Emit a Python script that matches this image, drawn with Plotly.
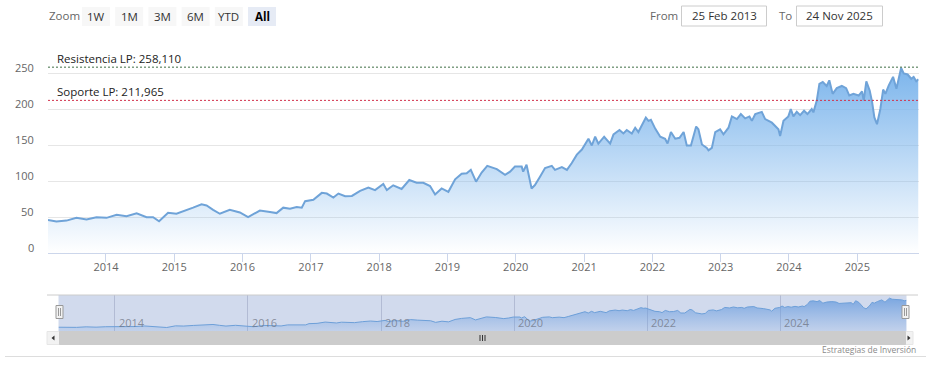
import plotly.graph_objects as go

W, H = 936, 374


def px(x):
    return x / W


def py(y):
    return 1 - y / H


# ---------------- data ----------------
dates = [
    "2013-02-25", "2013-04-11", "2013-06-04", "2013-07-27", "2013-09-19", "2013-11-11",
    "2014-01-04", "2014-02-27", "2014-04-21", "2014-06-14", "2014-08-06", "2014-09-10",
    "2014-10-12", "2014-11-29", "2015-01-13", "2015-03-07", "2015-04-12", "2015-05-27",
    "2015-06-23", "2015-07-28", "2015-09-02", "2015-10-25", "2015-12-18", "2016-01-31",
    "2016-04-03", "2016-05-27", "2016-07-01", "2016-08-06", "2016-09-11", "2016-10-17",
    "2016-11-13", "2016-12-01", "2017-01-14", "2017-02-28", "2017-03-27", "2017-05-01",
    "2017-05-28", "2017-07-03", "2017-08-08", "2017-09-21", "2017-11-04", "2017-12-10",
    "2018-01-23", "2018-02-11", "2018-03-17", "2018-05-01", "2018-06-11", "2018-07-20",
    "2018-08-25", "2018-09-30", "2018-10-27", "2018-12-01", "2019-01-06", "2019-02-11",
    "2019-03-18", "2019-04-14", "2019-05-06", "2019-06-03", "2019-07-03", "2019-08-02",
    "2019-09-22", "2019-11-05", "2019-12-02", "2019-12-28", "2020-02-02", "2020-02-10",
    "2020-02-28", "2020-03-26", "2020-04-13", "2020-05-10", "2020-06-06", "2020-07-12",
    "2020-07-29", "2020-09-04", "2020-10-01", "2020-10-27", "2020-11-23", "2020-12-20",
    "2021-01-24", "2021-02-11", "2021-03-01", "2021-03-18", "2021-04-18", "2021-05-20",
    "2021-06-07", "2021-07-09", "2021-07-30", "2021-08-17", "2021-09-13", "2021-10-01",
    "2021-10-18", "2021-11-27", "2021-12-11", "2021-12-24", "2022-01-16", "2022-02-12",
    "2022-03-10", "2022-03-23", "2022-04-10", "2022-05-03", "2022-05-26", "2022-06-17",
    "2022-07-04", "2022-07-26", "2022-08-23", "2022-09-04", "2022-09-23", "2022-10-19",
    "2022-10-28", "2022-11-15", "2022-12-03", "2022-12-29", "2023-01-16", "2023-02-12",
    "2023-03-02", "2023-03-29", "2023-04-19", "2023-05-12", "2023-06-04", "2023-06-17",
    "2023-07-05", "2023-08-09", "2023-08-27", "2023-10-02", "2023-11-06", "2023-11-15",
    "2023-12-03", "2023-12-29", "2024-01-11", "2024-01-25", "2024-02-12", "2024-03-01",
    "2024-03-22", "2024-04-09", "2024-05-02", "2024-05-11", "2024-05-29", "2024-06-12",
    "2024-06-30", "2024-07-21", "2024-08-04", "2024-08-22", "2024-09-13", "2024-10-10",
    "2024-11-02", "2024-11-19", "2024-12-11", "2025-01-08", "2025-01-26", "2025-02-04",
    "2025-02-18", "2025-03-08", "2025-03-21", "2025-04-02", "2025-04-16", "2025-05-04",
    "2025-05-19", "2025-05-31", "2025-06-18", "2025-07-11", "2025-07-29", "2025-08-23",
    "2025-09-06", "2025-09-27", "2025-10-16", "2025-10-29", "2025-11-12", "2025-11-24",
]
values = [
    46.0, 43.7, 45.0, 48.8, 46.5, 49.7,
    48.8, 53.0, 51.0, 55.0, 49.7, 49.7,
    44.0, 56.0, 54.5, 59.0, 63.0, 67.6,
    66.0, 60.0, 54.5, 60.0, 56.3, 49.7,
    59.0, 56.8, 55.4, 63.0, 61.5, 63.8,
    63.0, 72.0, 74.0, 83.5, 82.6, 77.0,
    82.6, 78.9, 79.3, 86.4, 91.0, 87.3,
    95.8, 87.3, 94.0, 89.0, 101.4, 97.6,
    97.6, 93.0, 81.3, 89.7, 85.0, 102.4,
    110.0, 110.8, 115.5, 99.0, 111.7, 121.0,
    116.5, 108.5, 113.0, 120.0, 120.0, 113.0,
    122.5, 89.7, 94.4, 106.0, 118.0, 121.0,
    115.5, 119.3, 115.5, 125.0, 136.6, 143.7,
    158.7, 149.3, 161.5, 152.0, 161.5, 152.0,
    164.8, 170.8, 166.0, 170.8, 166.0, 174.0,
    168.0, 188.0, 183.5, 185.0, 172.8, 161.5,
    158.7, 152.0, 168.0, 158.7, 160.0, 168.0,
    149.3, 149.3, 175.6, 171.8, 150.7, 146.0,
    142.7, 146.0, 168.0, 171.8, 164.8, 174.0,
    189.7, 186.0, 193.0, 187.0, 189.7, 183.5,
    193.0, 196.0, 186.0, 181.0, 171.8, 162.4,
    183.5, 189.7, 200.0, 189.7, 196.0, 191.5,
    197.6, 193.0, 200.0, 195.3, 211.7, 235.0,
    237.6, 232.0, 239.8, 221.0, 229.0, 232.0,
    229.0, 218.7, 221.0, 218.7, 224.4, 211.7,
    238.5, 225.8, 209.4, 188.3, 178.9, 200.0,
    227.0, 221.0, 232.8, 244.6, 228.0, 257.0,
    249.3, 247.9, 242.0, 244.6, 238.5, 241.3,
]

y_tick_values = [0, 50, 100, 150, 200, 250, 300]
y_tick_labels = ["0", "50", "100", "150", "200", "250", ""]
x_tick_dates = ["2014-01-01", "2015-01-01", "2016-01-01", "2017-01-01", "2018-01-01",
                "2019-01-01", "2020-01-01", "2021-01-01", "2022-01-01", "2023-01-01",
                "2024-01-01", "2025-01-01"]
x_tick_labels = ["2014", "2015", "2016", "2017", "2018", "2019", "2020", "2021",
                 "2022", "2023", "2024", "2025"]
nav_tick_dates = ["2014-01-01", "2016-01-01", "2018-01-01", "2020-01-01",
                  "2022-01-01", "2024-01-01"]
nav_tick_labels = ["2014", "2016", "2018", "2020", "2022", "2024"]

level_values = [258.11, 211.965]
level_labels = ["Resistencia LP: 258,110", "Soporte LP: 211,965"]
level_colors = ["#3f6e45", "#d2304a"]

zoom_label = "Zoom"
zoom_buttons = ["1W", "1M", "3M", "6M", "YTD", "All"]
zoom_selected = "All"
from_label, to_label = "From", "To"
date_from, date_to = "25 Feb 2013", "24 Nov 2025"
credit_text = "Estrategias de Inversión"

FONT = "Open Sans, Arial, sans-serif"
LINE = "#6fa3d8"

# ---------------- figure ----------------
fig = go.Figure()

fig.add_trace(go.Scatter(
    x=dates, y=values, mode="lines",
    line=dict(color=LINE, width=2),
    fill="tozeroy",
    fillgradient=dict(type="vertical", start=0, stop=max(values),
                      colorscale=[[0, "rgba(124,181,236,0.0)"],
                                  [1, "rgba(124,181,236,1.0)"]]),
    xaxis="x", yaxis="y", hoverinfo="skip", showlegend=False,
))

fig.add_trace(go.Scatter(
    x=dates, y=values, mode="lines",
    line=dict(color="#6d9fd8", width=1),
    fill="tozeroy",
    fillgradient=dict(type="vertical", start=15, stop=max(values),
                      colorscale=[[0, "rgba(110,160,225,0.15)"],
                                  [1, "rgba(95,150,220,0.75)"]]),
    xaxis="x2", yaxis="y2", hoverinfo="skip", showlegend=False,
))

shapes = []
annotations = []

# y tick labels (Highcharts style: sit just above their grid line)
for v, lab in zip(y_tick_values, y_tick_labels):
    if lab:
        annotations.append(dict(text=lab, xref="paper", yref="y", x=px(35.5), y=v,
                                xanchor="right", yanchor="middle", yshift=5,
                                showarrow=False,
                                font=dict(family=FONT, size=11, color="#666666")))

# support / resistance lines
for v, lab, col in zip(level_values, level_labels, level_colors):
    shapes.append(dict(type="line", xref="x domain", yref="y", x0=0, x1=1, y0=v, y1=v,
                       line=dict(color=col, width=1, dash="2px,2px"), layer="above"))
    annotations.append(dict(text=lab, xref="x domain", yref="y", x=0, y=v,
                            xanchor="left", yanchor="bottom", xshift=7, yshift=-1,
                            showarrow=False, font=dict(family=FONT, size=11.5, color="#222")))

# navigator mask
shapes.append(dict(type="rect", xref="x2 domain", yref="y2 domain", x0=0, x1=1, y0=0, y1=1,
                   fillcolor="rgba(102,133,194,0.3)", line=dict(width=0), layer="below"))
# navigator outline top
shapes.append(dict(type="line", xref="paper", yref="paper", x0=px(47), x1=px(918),
                   y0=py(295), y1=py(295), line=dict(color="#cccccc", width=1)))

# navigator labels
for d, lab in zip(nav_tick_dates, nav_tick_labels):
    annotations.append(dict(text=lab, xref="x2", yref="y2 domain", x=d, y=0,
                            xanchor="left", yanchor="bottom", xshift=2, yshift=0,
                            showarrow=False,
                            font=dict(family=FONT, size=11, color="rgba(110,115,130,0.75)")))

# navigator handles
for hx in (59.5, 905.5):
    shapes.append(dict(type="rect", xref="paper", yref="paper",
                       x0=px(hx - 3.5), x1=px(hx + 3.5), y0=py(318.5), y1=py(305.5),
                       fillcolor="#f2f2f2", line=dict(color="#999999", width=1)))
    for dx in (-1, 1):
        shapes.append(dict(type="line", xref="paper", yref="paper",
                           x0=px(hx + dx), x1=px(hx + dx), y0=py(316), y1=py(308),
                           line=dict(color="#999999", width=1)))

# scrollbar
shapes.append(dict(type="rect", xref="paper", yref="paper", x0=px(47), x1=px(913),
                   y0=py(344.5), y1=py(331.5), fillcolor="#f2f2f2",
                   line=dict(color="#e6e6e6", width=1)))
shapes.append(dict(type="rect", xref="paper", yref="paper", x0=px(59.5), x1=px(905.5),
                   y0=py(344.5), y1=py(331.5), fillcolor="#cccccc",
                   line=dict(color="#cccccc", width=1)))
for gx in (480, 482.5, 485):
    shapes.append(dict(type="line", xref="paper", yref="paper", x0=px(gx), x1=px(gx),
                       y0=py(341), y1=py(335), line=dict(color="#333333", width=1)))
shapes.append(dict(type="path", xref="paper", yref="paper",
                   path=f"M {px(51.5)} {py(338)} L {px(54.5)} {py(335.5)} L {px(54.5)} {py(340.5)} Z",
                   fillcolor="#333333", line=dict(width=0)))
shapes.append(dict(type="path", xref="paper", yref="paper",
                   path=f"M {px(910.5)} {py(338)} L {px(907.5)} {py(335.5)} L {px(907.5)} {py(340.5)} Z",
                   fillcolor="#333333", line=dict(width=0)))

# bottom separator line
shapes.append(dict(type="line", xref="paper", yref="paper", x0=px(5), x1=px(926),
                   y0=py(356.5), y1=py(356.5), line=dict(color="#dddddd", width=1)))

# credits
annotations.append(dict(text=credit_text, xref="paper", yref="paper", x=px(918), y=py(349),
                        xanchor="right", yanchor="middle", showarrow=False,
                        font=dict(family=FONT, size=8.5, color="#8a8a8a")))

# range selector
annotations.append(dict(text=zoom_label, xref="paper", yref="paper", x=px(47), y=py(16),
                        xanchor="left", yanchor="middle", showarrow=False,
                        font=dict(family=FONT, size=11.5, color="#666666")))
for i, b in enumerate(zoom_buttons):
    bx = 82 + i * 33.2
    sel = (b == zoom_selected)
    shapes.append(dict(type="rect", xref="paper", yref="paper", x0=px(bx), x1=px(bx + 28),
                       y0=py(26), y1=py(7), fillcolor="#e6ebf5" if sel else "#f7f7f7",
                       line=dict(width=0)))
    annotations.append(dict(text=f"<b>{b}</b>" if sel else b, xref="paper", yref="paper",
                            x=px(bx + 14), y=py(16.5), xanchor="center", yanchor="middle",
                            showarrow=False,
                            font=dict(family=FONT, size=11.5, color="#000000" if sel else "#333333")))

# date inputs
annotations.append(dict(text=from_label, xref="paper", yref="paper", x=px(648), y=py(16),
                        xanchor="left", yanchor="middle", showarrow=False,
                        font=dict(family=FONT, size=11.5, color="#666666")))
annotations.append(dict(text=to_label, xref="paper", yref="paper", x=px(777), y=py(16),
                        xanchor="left", yanchor="middle", showarrow=False,
                        font=dict(family=FONT, size=11.5, color="#666666")))
for (x0, x1), txt in zip([(681.5, 766.5), (796.5, 882.5)], [date_from, date_to]):
    shapes.append(dict(type="rect", xref="paper", yref="paper", x0=px(x0), x1=px(x1),
                       y0=py(26), y1=py(6), fillcolor="white",
                       line=dict(color="#cccccc", width=1)))
    annotations.append(dict(text=txt, xref="paper", yref="paper", x=px((x0 + x1) / 2),
                            y=py(16), xanchor="center", yanchor="middle", showarrow=False,
                            font=dict(family=FONT, size=11.5, color="#333333")))

fig.update_layout(
    width=W, height=H,
    margin=dict(l=0, r=0, t=0, b=0),
    paper_bgcolor="white", plot_bgcolor="white",
    showlegend=False,
    hovermode=False,
    font=dict(family=FONT, color="#666666", size=11),
    xaxis=dict(domain=[px(48), px(918.5)], range=[dates[0], dates[-1]],
               type="date", tickvals=x_tick_dates, ticktext=x_tick_labels,
               showgrid=False, zeroline=False,
               showline=True, linecolor="#ccd6eb", linewidth=1,
               ticks="outside", ticklen=8, tickcolor="#ccd6eb",
               tickfont=dict(family=FONT, size=11, color="#666666"),
               ticklabelstandoff=-4, anchor="y", fixedrange=True),
    yaxis=dict(domain=[py(253), py(37)], range=[0, 300],
               tickvals=y_tick_values, showticklabels=False,
               showgrid=True, gridcolor="#e6e6e6", gridwidth=1,
               zeroline=False, showline=False, ticks="", anchor="x", fixedrange=True),
    xaxis2=dict(domain=[px(58.5), px(906.5)], range=[dates[0], dates[-1]],
                type="date", tickvals=nav_tick_dates, showticklabels=False,
                showgrid=True, gridcolor="rgba(120,130,165,0.35)", gridwidth=1,
                zeroline=False, showline=False, ticks="", anchor="y2", fixedrange=True),
    yaxis2=dict(domain=[py(331.5), py(295)], range=[15, 280],
                showgrid=False, zeroline=False, showticklabels=False, ticks="",
                anchor="x2", fixedrange=True),
    shapes=shapes,
    annotations=annotations,
)

fig.write_html("out.html", config={"displayModeBar": False},
               post_script="document.body.style.margin='0';")
